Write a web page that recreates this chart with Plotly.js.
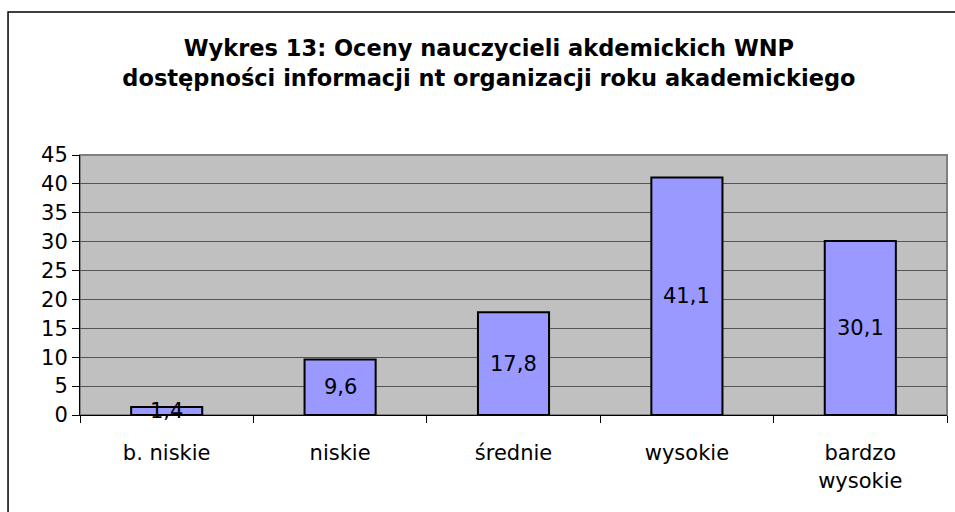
<!DOCTYPE html>
<html>
<head>
<meta charset="utf-8">
<script src="https://cdn.plot.ly/plotly-3.0.1.min.js"></script>
<style>
html,body{margin:0;padding:0;background:#fff;}
#chart{width:955px;height:512px;}
</style>
</head>
<body>
<div id="chart"></div>
<script>
const categories = ["b. niskie", "niskie", "średnie", "wysokie", "bardzo<br>wysokie"];
const values = [1.4, 9.6, 17.8, 41.1, 30.1];
const valueLabels = ["1,4", "9,6", "17,8", "41,1", "30,1"];
const yTicks = [0, 5, 10, 15, 20, 25, 30, 35, 40, 45];
const titleText = "Wykres 13: Oceny nauczycieli akdemickich WNP<br>dostępności informacji nt organizacji roku akademickiego";

const FONT = "DejaVu Sans, Liberation Sans, Arial, sans-serif";

const trace = {
  type: "bar",
  x: categories,
  y: values,
  marker: {color: "#9999FF", line: {color: "#000000", width: 2}},
  width: 0.41,
  hoverinfo: "skip"
};

const annotations = categories.map((c, i) => ({
  x: c, y: values[i] / 2, xref: "x", yref: "y",
  text: valueLabels[i], showarrow: false,
  font: {family: FONT, size: 21, color: "#000"},
  xanchor: "center", yanchor: "middle"
}));

const layout = {
  width: 955, height: 512,
  margin: {l: 80, r: 8, t: 155, b: 97},
  paper_bgcolor: "#ffffff",
  plot_bgcolor: "#C0C0C0",
  showlegend: false,
  title: {
    text: titleText,
    font: {family: FONT, size: 22.5, color: "#000", weight: "bold"},
    x: 0.512, xanchor: "center", xref: "container",
    y: 0.89, yanchor: "top", yref: "container"
  },
  xaxis: {
    type: "category",
    showgrid: false,
    showline: true, linecolor: "#000", linewidth: 1,
    ticks: "outside", tickson: "boundaries", ticklen: 7, tickcolor: "#000",
    tickfont: {family: FONT, size: 21, color: "#000"},
    ticklabelstandoff: 19,
    zeroline: false, fixedrange: true
  },
  yaxis: {
    range: [0, 45],
    tickvals: yTicks,
    showgrid: true, gridcolor: "#555555", gridwidth: 1.2,
    showline: true, linecolor: "#000", linewidth: 1,
    ticks: "outside", ticklen: 7, tickcolor: "#000",
    tickfont: {family: FONT, size: 21, color: "#000"},
    zeroline: false, fixedrange: true
  },
  shapes: [
    {type: "rect", xref: "paper", yref: "paper", x0: 0, x1: 1, y0: 0, y1: 1,
     line: {color: "#808080", width: 2}, layer: "below"},
    {type: "rect", xref: "paper", yref: "paper", x0: -0.083, x1: 1.03, y0: -0.45, y1: 1.55,
     line: {color: "#000", width: 1.5}, fillcolor: "rgba(0,0,0,0)", layer: "above"}
  ],
  annotations: annotations
};

Plotly.newPlot("chart", [trace], layout, {displayModeBar: false, staticPlot: true});
</script>
</body>
</html>
